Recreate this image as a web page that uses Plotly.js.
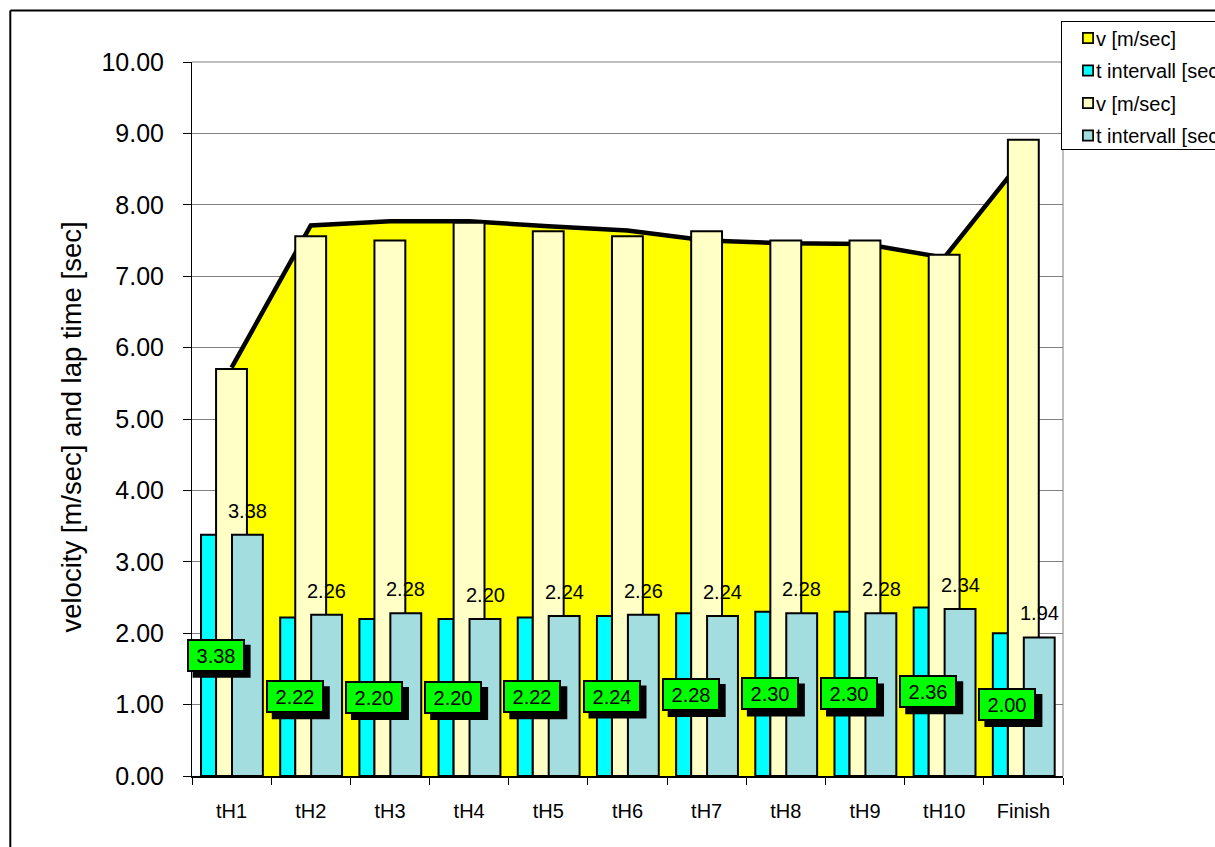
<!DOCTYPE html>
<html><head><meta charset="utf-8">
<script src="https://cdn.plot.ly/plotly-3.0.1.min.js"></script>
<style>
html,body{margin:0;padding:0;overflow:hidden;background:#fff;width:1215px;height:847px}
#chart{width:1260px;height:847px}
.legend .traces{opacity:1 !important}
.legend .legendpoints path{transform:translate(26px,0px) scale(0.85)}
.legend .legendtext{transform:translateX(-6px)}
.legend .scrollbox{transform:translateY(-3px)}
.legend rect.bg{height:128px}
.g-ytitle{transform:translateY(8px)}
</style></head><body><div id="chart"></div>
<script>
const categories = ['tH1','tH2','tH3','tH4','tH5','tH6','tH7','tH8','tH9','tH10','Finish'];
const vArea     = [5.72, 7.71, 7.77, 7.77, 7.70, 7.64, 7.50, 7.46, 7.45, 7.26, 8.65];
const tInterval = [3.38, 2.22, 2.20, 2.20, 2.22, 2.24, 2.28, 2.30, 2.30, 2.36, 2.00];
const vBars     = [5.70, 7.56, 7.50, 7.75, 7.63, 7.56, 7.63, 7.50, 7.50, 7.30, 8.91];
const tBars     = [3.38, 2.26, 2.28, 2.20, 2.24, 2.26, 2.24, 2.28, 2.28, 2.34, 1.94];
const yTicks    = [0, 1, 2, 3, 4, 5, 6, 7, 8, 9, 10];
const seriesNames = ['v [m/sec]', 't intervall [sec]', 'v [m/sec]', 't intervall [sec]'];
const yTitle = 'velocity [m/sec] and lap time [sec]';

const FONT = 'Liberation Sans, Arial, Helvetica, sans-serif';
const black = '#000000';

// plot area geometry (px) used for paper-coordinate decorations
const L = 192, T = 62, W = 871, H = 714;
const px2x = p => (p - L) / W;
const py2y = p => (T + H - p) / H;

const traces = [
  { type: 'bar', x: categories, y: vArea, name: seriesNames[0], visible: 'legendonly',
    legendgroup: 'g0', xaxis: 'x2', yaxis: 'y2',
    marker: { color: '#FFFF00', line: { color: black, width: 2 } } },
  { type: 'scatter', x: categories, y: vArea, mode: 'lines', fill: 'tozeroy',
    fillcolor: '#FFFF00', line: { color: black, width: 4.5 }, showlegend: false,
    hoverinfo: 'skip', xaxis: 'x', yaxis: 'y' },
  { type: 'bar', x: categories, y: tInterval, name: seriesNames[1], legendgroup: 'g1',
    offset: -0.386, width: 0.19, xaxis: 'x2', yaxis: 'y2',
    marker: { color: '#00FFFF', line: { color: black, width: 2 } } },
  { type: 'bar', x: categories, y: vBars, name: seriesNames[2], legendgroup: 'g2',
    offset: -0.196, width: 0.39, xaxis: 'x2', yaxis: 'y2',
    marker: { color: '#FFFFC6', line: { color: black, width: 2 } } },
  { type: 'bar', x: categories, y: tBars, name: seriesNames[3], legendgroup: 'g3',
    offset: 0.005, width: 0.39, xaxis: 'x2', yaxis: 'y2',
    marker: { color: '#A4DDE0', line: { color: black, width: 2 } } }
];

const annotations = [];
const shadowShapes = [];
tInterval.forEach((v, i) => {
  // drop shadow behind the green label box (pixel-sized, anchored on the data point)
  shadowShapes.push({ type: 'rect', xref: 'x', yref: 'y', xsizemode: 'pixel', ysizemode: 'pixel',
    xanchor: categories[i], yanchor: v / 2, x0: -16 - 29 + 6, x1: -16 + 29 + 6,
    y0: -16.5 - 6, y1: 16.5 - 6, fillcolor: black, line: { width: 0 }, layer: 'above' });
  annotations.push({ x: categories[i], y: v / 2, xref: 'x', yref: 'y', showarrow: false,
    text: v.toFixed(2), width: 52, height: 27, borderpad: 1, borderwidth: 2,
    bordercolor: black, bgcolor: '#00FF00', xshift: -16,
    font: { family: FONT, size: 20, color: black } });
});
tBars.forEach((v, i) => {
  annotations.push({ x: categories[i], y: v, xref: 'x', yref: 'y', showarrow: false,
    text: v.toFixed(2), yanchor: 'bottom', xshift: 16, yshift: 11,
    font: { family: FONT, size: 20, color: black } });
});

const layout = {
  width: 1260, height: 847,
  margin: { l: L, r: 1260 - L - W, t: T, b: 847 - T - H, autoexpand: false },
  paper_bgcolor: '#ffffff', plot_bgcolor: '#ffffff',
  barmode: 'overlay',
  font: { family: FONT, color: black },
  showlegend: true,
  hovermode: false,
  legend: { x: px2x(1061), y: py2y(20.5), xanchor: 'left', yanchor: 'top',
    bgcolor: '#ffffff', bordercolor: black, borderwidth: 1,
    font: { family: FONT, size: 20, color: black },
    traceorder: 'grouped', tracegroupgap: 3.5, itemclick: false, itemdoubleclick: false },
  xaxis: { type: 'category', range: [-0.5, 10.5], tickson: 'boundaries', ticks: 'outside',
    ticklen: 7, tickcolor: black, showline: true, linecolor: black, linewidth: 2,
    showgrid: false, zeroline: false, tickfont: { family: FONT, size: 20, color: black },
    ticklabelstandoff: 16, fixedrange: true },
  yaxis: { range: [0, 10], tickvals: yTicks, tickformat: '.2f', ticks: 'outside', ticklen: 8,
    tickcolor: black, showline: true, linecolor: black, linewidth: 1,
    showgrid: true, gridcolor: '#808080', gridwidth: 1, zeroline: false,
    tickfont: { family: FONT, size: 25, color: black }, ticklabelstandoff: 14,
    title: { text: yTitle, font: { family: FONT, size: 27.5, color: black }, standoff: 11 },
    fixedrange: true },
  xaxis2: { type: 'category', overlaying: 'x', range: [-0.5, 10.5], visible: false, fixedrange: true },
  yaxis2: { overlaying: 'y', range: [0, 10], visible: false, fixedrange: true },
  shapes: [
    { type: 'line', xref: 'paper', yref: 'paper', x0: 1, x1: 1, y0: 0, y1: 1,
      line: { color: '#808080', width: 1 } },
    { type: 'line', xref: 'paper', yref: 'paper', x0: 0, x1: 1, y0: 1, y1: 1,
      line: { color: '#808080', width: 1 } },
    { type: 'line', xref: 'paper', yref: 'paper', x0: px2x(10.3), x1: px2x(1260), y0: py2y(10.5), y1: py2y(10.5),
      line: { color: black, width: 2 } },
    { type: 'line', xref: 'paper', yref: 'paper', x0: px2x(10.3), x1: px2x(10.3), y0: py2y(10.5), y1: py2y(900),
      line: { color: black, width: 2 } }
  ].concat(shadowShapes),
  annotations: annotations
};

Plotly.newPlot('chart', traces, layout, { displayModeBar: false, responsive: false });
</script></body></html>
